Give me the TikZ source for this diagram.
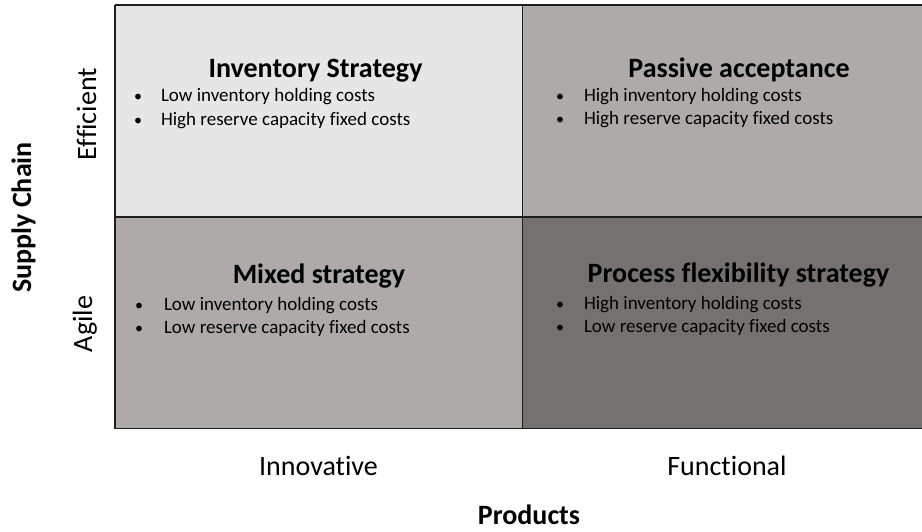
\documentclass[tikz,border=0pt]{standalone}
\usepackage{fontspec}
\setmainfont{Carlito}[Ligatures=NoCommon]
\definecolor{cellLight}{HTML}{E7E6E6}
\definecolor{cellMid}{HTML}{AEAAAA}
\definecolor{cellDark}{HTML}{767171}
\definecolor{gridLine}{HTML}{1E1E1E}
\tikzstyle{every node}=[inner sep=0pt, outer sep=0pt]
\tikzstyle{title}=[font=\fontsize{28}{34}\selectfont\bfseries, anchor=base]
\tikzstyle{item}=[font=\fontsize{19}{23}\selectfont, anchor=base west]
\tikzstyle{dot}=[font=\fontsize{16}{23}\selectfont, anchor=base]
\tikzstyle{axis}=[font=\fontsize{28}{34}\selectfont, anchor=base]
\tikzstyle{axisname}=[font=\fontsize{28}{34}\selectfont\bfseries, anchor=base]

\begin{document}
\begin{tikzpicture}[x=1pt, y=-1pt, line width=1.2pt]
    \useasboundingbox (0,0) rectangle (922,531);
% Cells
    \fill[cellLight] (115,5) rectangle (522.5,217);
    \fill[cellMid] (522.5,5) rectangle (930,217);
    \fill[cellMid] (115,217) rectangle (522.5,428.5);
    \fill[cellDark] (522.5,217) rectangle (930,428.5);
% Grid
    \draw[gridLine] (115,5) -- (930,5);
    \draw[gridLine] (115,217) -- (930,217);
    \draw[gridLine] (115,428.5) -- (930,428.5);
    \draw[gridLine] (115,5) -- (115,428.5);
    \draw[gridLine] (522.5,5) -- (522.5,428.5);
% Inventory strategy
    \node[title] (invTitle) at (315.5,77) {Inventory Strategy};
    \node[dot] (invDotA) at (138,101.7) {\textbullet};
    \node[item] (invA) at (161,101.7) {Low inventory holding costs};
    \node[dot] (invDotB) at (138,125) {\textbullet};
    \node[item] (invB) at (161,125) {High reserve capacity fixed costs};
% Passive acceptance
    \node[title] (pasTitle) at (739,77) {Passive acceptance};
    \node[dot] (pasDotA) at (560,101.7) {\textbullet};
    \node[item] (pasA) at (584,101.7) {High inventory holding costs};
    \node[dot] (pasDotB) at (560,124.5) {\textbullet};
    \node[item] (pasB) at (584,124.5) {High reserve capacity fixed costs};
% Mixed strategy
    \node[title] (mixTitle) at (319,283) {Mixed strategy};
    \node[dot] (mixDotA) at (139,310) {\textbullet};
    \node[item] (mixA) at (164,310) {Low inventory holding costs};
    \node[dot] (mixDotB) at (139,333) {\textbullet};
    \node[item] (mixB) at (164,333) {Low reserve capacity fixed costs};
% Process flexibility strategy
    \node[title] (proTitle) at (738.5,282) {Process flexibility strategy};
    \node[dot] (proDotA) at (560,309) {\textbullet};
    \node[item] (proA) at (584,309) {High inventory holding costs};
    \node[dot] (proDotB) at (560,332.7) {\textbullet};
    \node[item] (proB) at (584,332.7) {Low reserve capacity fixed costs};
% Axes
    \node[axis, rotate=90] (efficient) at (96,114) {Efficient};
    \node[axis, rotate=90] (agile) at (92,324) {Agile};
    \node[axisname, rotate=90] (supply) at (31,217.5) {Supply Chain};
    \node[axis] (innovative) at (318.5,475) {Innovative};
    \node[axis] (functional) at (727,475) {Functional};
    \node[axisname] (products) at (529,524) {Products};
\end{tikzpicture}
\end{document}
